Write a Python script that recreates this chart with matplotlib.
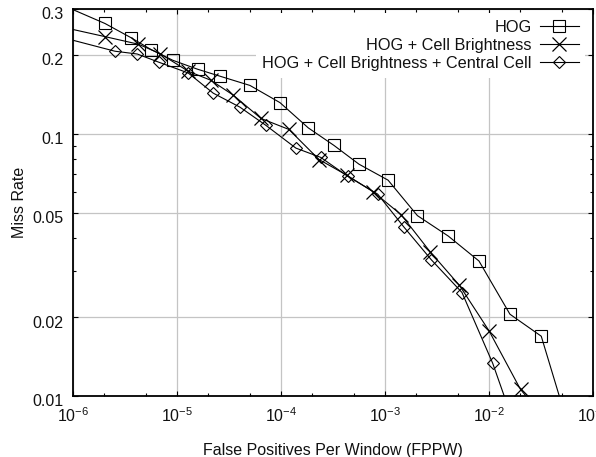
import matplotlib
matplotlib.use('Agg')
import matplotlib.pyplot as plt
import matplotlib.transforms as mtransforms
from matplotlib.lines import Line2D
from matplotlib.ticker import FixedLocator, FixedFormatter, NullFormatter

plt.rcParams['font.family'] = ['Liberation Sans', 'DejaVu Sans']
plt.rcParams['mathtext.fontset'] = 'custom'
plt.rcParams['mathtext.rm'] = 'Liberation Sans'
plt.rcParams['mathtext.it'] = 'Liberation Sans:italic'
plt.rcParams['mathtext.bf'] = 'Liberation Sans:bold'

# ---- data ----
labels = ["HOG", "HOG + Cell Brightness", "HOG + Cell Brightness + Central Cell"]

hog_fppw = [2.03e-6, 3.59e-6, 5.62e-6, 9.09e-6, 1.58e-5, 2.59e-5, 5.03e-5, 9.78e-5,
            1.83e-4, 3.23e-4, 5.62e-4, 1.07e-3, 2.05e-3, 4.06e-3, 8.01e-3, 1.59e-2, 3.18e-2]
hog_miss = [0.263, 0.2325, 0.2093, 0.1905, 0.176, 0.1656, 0.1527, 0.1313,
            0.1052, 0.0902, 0.0765, 0.0665, 0.0487, 0.0407, 0.0327, 0.0205, 0.0169]
hog_start = (1e-6, 0.297)
hog_end = (4.74e-2, 0.01)

cb_fppw = [2.01e-6, 4.25e-6, 6.86e-6, 1.28e-5, 2.10e-5, 3.48e-5, 6.42e-5, 1.19e-4,
           2.32e-4, 4.28e-4, 7.72e-4, 1.43e-3, 2.71e-3, 5.20e-3, 1.0e-2, 2.01e-2]
cb_miss = [0.2346, 0.2193, 0.202, 0.173, 0.16, 0.1402, 0.1143, 0.1038,
           0.0797, 0.0695, 0.06, 0.0491, 0.0355, 0.0264, 0.01773, 0.01059]
cb_start = (1e-6, 0.2495)
cb_end = (2.27e-2, 0.01)

cc_fppw = [2.53e-6, 4.15e-6, 6.67e-6, 1.28e-5, 2.23e-5, 4.03e-5, 7.13e-5, 1.39e-4,
           2.41e-4, 4.36e-4, 8.51e-4, 1.51e-3, 2.78e-3, 5.50e-3, 1.085e-2]
cc_miss = [0.2062, 0.2012, 0.1873, 0.1704, 0.1427, 0.1262, 0.1077, 0.0881,
           0.0812, 0.0689, 0.0588, 0.0442, 0.0331, 0.0248, 0.01333]
cc_start = (1e-6, 0.227)
cc_end = (1.40e-2, 0.01)

x_major = [1e-6, 1e-5, 1e-4, 1e-3, 1e-2, 1e-1]
x_major_labels = [r'$\mathdefault{10^{-6}}$', r'$\mathdefault{10^{-5}}$', r'$\mathdefault{10^{-4}}$',
                  r'$\mathdefault{10^{-3}}$', r'$\mathdefault{10^{-2}}$', r'$\mathdefault{10^{-1}}$']
x_minor = [m * 10.0 ** e for e in range(-6, -1) for m in (2, 5)]
y_major = [0.01, 0.02, 0.05, 0.1, 0.2, 0.3]
y_major_labels = ['0.01', '0.02', '0.05', '0.1', '0.2', '0.3']
y_minor = [0.03, 0.04, 0.06, 0.07, 0.08, 0.09]

# ---- figure ----
fig = plt.figure(figsize=(5.96, 4.57), dpi=100)
ax = fig.add_axes([73 / 596, 61 / 457, 520 / 596, 387.5 / 457])
ax.set_xscale('log')
ax.set_yscale('log')
ax.set_xlim(1e-6, 1e-1)
ax.set_ylim(0.01, 0.3)

series = [
    (hog_fppw, hog_miss, hog_start, hog_end, dict(marker='s', markersize=8), 0.8),
    (cb_fppw, cb_miss, cb_start, cb_end, dict(marker='x', markersize=10), 0.9),
    (cc_fppw, cc_miss, cc_start, cc_end, dict(marker='D', markersize=6.5), 0.8),
]
handles = []
for (xs, ys, st, en, mk, mew), lab in zip(series, labels):
    lx = [st[0]] + list(xs) + [en[0]]
    ly = [st[1]] + list(ys) + [en[1]]
    ax.plot(lx, ly, color='black', linewidth=0.8, zorder=3)
    ax.plot(xs, ys, linestyle='none', color='black', markerfacecolor='none',
            markeredgecolor='black', markeredgewidth=mew, zorder=4, **mk)
    handles.append(Line2D([], [], color='black', linewidth=0.8, markerfacecolor='none',
                          markeredgecolor='black', markeredgewidth=mew, **mk))

ax.xaxis.set_major_locator(FixedLocator(x_major))
ax.xaxis.set_major_formatter(FixedFormatter(x_major_labels))
ax.xaxis.set_minor_locator(FixedLocator(x_minor))
ax.xaxis.set_minor_formatter(NullFormatter())
ax.yaxis.set_major_locator(FixedLocator(y_major))
ax.yaxis.set_major_formatter(FixedFormatter(y_major_labels))
ax.yaxis.set_minor_locator(FixedLocator(y_minor))
ax.yaxis.set_minor_formatter(NullFormatter())

ax.tick_params(which='both', direction='in', top=True, right=True, width=0.8, colors='black',
               labelsize=11.5, labelcolor='#111111')
ax.tick_params(which='major', length=3.5)
ax.tick_params(which='minor', length=2.5)
ax.tick_params(axis='x', which='major', pad=7.5)
ax.tick_params(axis='y', which='major', pad=7)

# y tick labels sit a few pixels below their ticks in the reference
offset = mtransforms.ScaledTranslation(0, -4.5 / 100, fig.dpi_scale_trans)
for lbl in ax.yaxis.get_majorticklabels():
    lbl.set_transform(lbl.get_transform() + offset)

ax.grid(True, which='major', color='#c4c4c4', linewidth=0.9, zorder=0)
ax.set_axisbelow(True)
for s in ax.spines.values():
    s.set_linewidth(1.3)
    s.set_color('black')

ax.set_xlabel('False Positives Per Window (FPPW)', fontsize=11.5, labelpad=13, color='#111111')
ax.set_ylabel('Miss Rate', fontsize=11.5, labelpad=4, color='#111111')

leg = ax.legend(handles, labels, loc='upper right', bbox_to_anchor=(0.985, 0.988),
                markerfirst=False, numpoints=1, fontsize=11.7, handlelength=2.4,
                handletextpad=0.5, labelspacing=0.2, borderpad=0.4, borderaxespad=0,
                frameon=True, fancybox=False, framealpha=1.0)
leg.get_frame().set_facecolor('white')
leg.get_frame().set_edgecolor('none')
for t in leg.get_texts():
    t.set_color('#111111')

fig.savefig('out.png', dpi=100)
